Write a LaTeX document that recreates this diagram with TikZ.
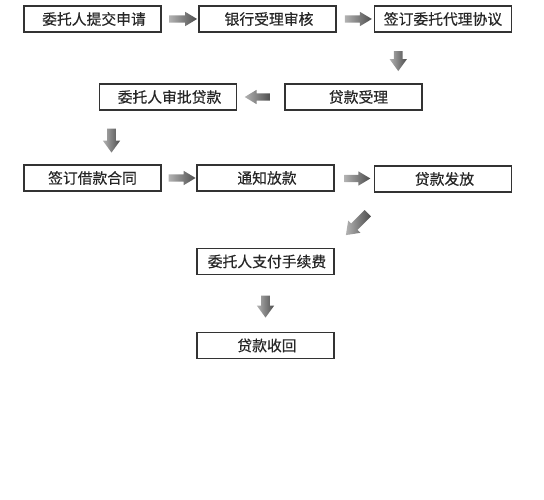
\documentclass[tikz,border=0pt]{standalone}
\usepackage{fontspec}
\newfontfamily\cjk[FakeBold=0.3]{Noto Sans CJK SC}
\usetikzlibrary{shapes.arrows,calc}
\tikzset{
  stepbox/.style={draw=black!80, line width=1.3pt, fill=white, minimum width=137pt, minimum height=26pt, inner sep=0pt, font=\cjk\fontsize{14.8pt}{16pt}\selectfont, text=black!85},
  barrow/.style={single arrow, draw=none, minimum height=#1, minimum width=14pt, single arrow head extend=3.5pt, single arrow tip angle=62, single arrow head indent=0pt, inner sep=0pt, shading=axis, left color=black!30, right color=black!70, shading angle=90},
  varrow/.style={barrow=#1, minimum width=17pt, single arrow head extend=4.25pt, single arrow tip angle=72},
}
\newcommand{\shaft}[1]{\rule{0pt}{#1}}
\begin{document}
\begin{tikzpicture}[x=1pt,y=-1pt]
\useasboundingbox (0,0) rectangle (544,500);
\node[stepbox] (a1) at (92.5,19) {\hspace{3pt}委托人提交申请};
\node[stepbox] (a2) at (267.5,19) {\hspace{3pt}银行受理审核};
\node[stepbox] (a3) at (443,19) {签订委托代理协议};
\node[stepbox] (b2) at (353.5,97) {\hspace{10pt}贷款受理};
\node[stepbox] (b1) at (168,97) {\hspace{3pt}委托人审批贷款};
\node[stepbox] (c1) at (92.5,178) {签订借款合同};
\node[stepbox] (c2) at (265.5,178) {\hspace{3pt}通知放款};
\node[stepbox] (c3) at (443,179) {\hspace{3pt}贷款发放};
\node[stepbox] (d1) at (265.5,261.5) {\hspace{3pt}委托人支付手续费};
\node[stepbox] (e1) at (265.5,345.5) {\hspace{3pt}贷款收回};
% block arrows between nodes
\node[barrow=28pt] (r1) at ($(a1.east)!0.5!(a2.west)$) {\shaft{7pt}};
\node[barrow=27pt] (r2) at ($(a2.east)!0.5!(a3.west)$) {\shaft{7pt}};
\node[varrow=20pt, rotate=-90] (v1) at ($(a3.south)!0.5!(b2.north)$) {\shaft{8.5pt}};
\node[barrow=26pt, rotate=180] (l1) at ($(b2.west)!0.5!(b1.east)$) {\shaft{7pt}};
\node[varrow=24pt, rotate=-90] (v2) at ($(b1.south -| 111.5,0)!0.5!(c1.north -| 111.5,0)$) {\shaft{8.5pt}};
\node[barrow=27pt] (r3) at ($(c1.east)!0.5!(c2.west)$) {\shaft{7pt}};
\node[barrow=26pt] (r4) at ($(c2.east)!0.5!(c3.west)$) {\shaft{7pt}};
\coordinate (dg) at (359,222);
\node[varrow=31pt, rotate=-135] (g1) at (dg) {\shaft{8.5pt}};
\node[varrow=22pt, rotate=-90] (v3) at ($(d1.south)!0.5!(e1.north)$) {\shaft{8.5pt}};
\end{tikzpicture}
\end{document}
